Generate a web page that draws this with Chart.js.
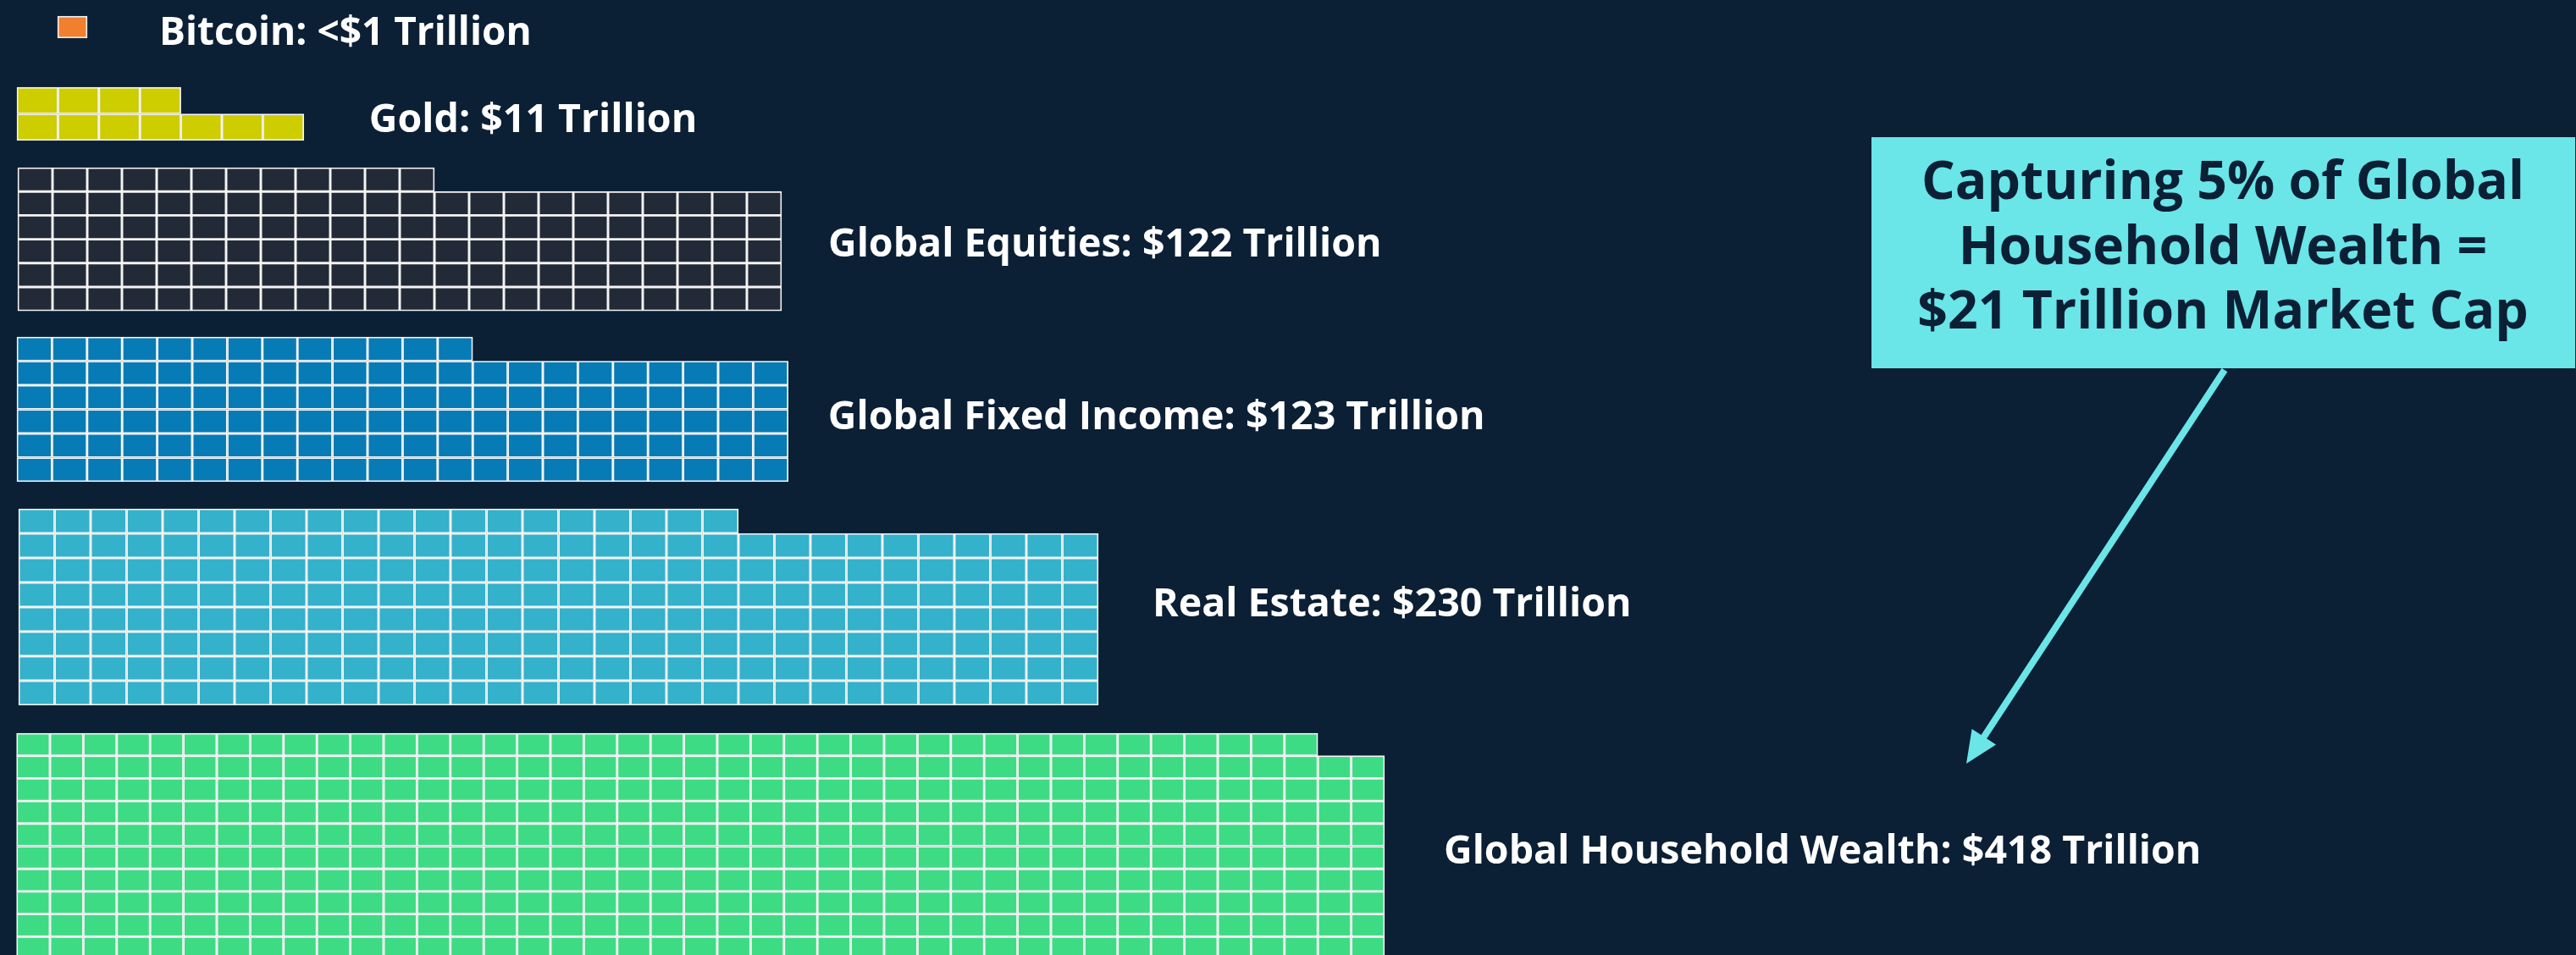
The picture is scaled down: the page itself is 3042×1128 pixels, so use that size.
<!DOCTYPE html>
<html>
<head>
<meta charset="utf-8">
<script src="https://cdn.jsdelivr.net/npm/chart.js@4.4.1/dist/chart.umd.min.js"></script>
<style>
  html, body { margin: 0; padding: 0; background: #0b1f35; }
  canvas { display: block; }
</style>
</head>
<body>
<canvas id="wealthChart" width="3042" height="1128"></canvas>
<script>
// one square = $1 trillion
const assets = ['Bitcoin', 'Gold', 'Global Equities', 'Global Fixed Income', 'Real Estate', 'Global Household Wealth'];
const valueLabels = ['<$1 Trillion', '$11 Trillion', '$122 Trillion', '$123 Trillion', '$230 Trillion', '$418 Trillion'];
const cells = [1, 11, 122, 123, 230, 418];
const gridColumns = [1, 7, 22, 22, 30, 41];
const topRowCells = [1, 4, 12, 13, 20, 39];
const calloutLines = ['Capturing 5% of Global', 'Household Wealth =', '$21 Trillion Market Cap'];

const colors = ['#f0802f', '#cdcd00', '#232a37', '#077bb5', '#34b1cb', '#3ddc84'];

// where each block sits on the canvas (pixels) and how big a square is
const layout = [
    { left: 68,   top: 19,  w: 35,   h: 26,   gap: 85, dy: 21, font: 46 },
    { left: 20,   top: 103, w: 48.4, h: 31.5, gap: 77, dy: 21, font: 46.5 },
    { left: 21,   top: 198, w: 41,   h: 28.2, gap: 55, dy: 20, font: 46.5 },
    { left: 20,   top: 398, w: 41.4, h: 28.5, gap: 47, dy: 23, font: 46.5 },
    { left: 22,   top: 601, w: 42.5, h: 29,   gap: 64, dy: 11, font: 46.5 },
    { left: 19.6, top: 866, w: 39.4, h: 26.7, gap: 70, dy: 23, font: 46.5 }
];

const W = 3042, H = 1128;
const FONT = '"Open Sans", sans-serif';

function waffle(i) {
    const pts = [];
    let placed = 0, row = 0;
    while (placed < cells[i]) {
        const n = row === 0 ? topRowCells[i] : Math.min(gridColumns[i], cells[i] - placed);
        for (let c = 0; c < n; c++) {
            pts.push({ x: c + 0.5, y: [row, row + 1] });
        }
        placed += n;
        row++;
    }
    return pts;
}

// one tick per column so the bars fill exactly one column
function columnTicks(scale) {
    const t = [];
    for (let v = Math.ceil(scale.min); v <= scale.max; v++) t.push({ value: v });
    scale.ticks = t;
}

const datasets = [];
const scales = {};
assets.forEach(function (name, i) {
    const L = layout[i];
    datasets.push({
        label: name,
        data: waffle(i),
        xAxisID: 'x' + i,
        yAxisID: 'y' + i,
        backgroundColor: colors[i],
        borderColor: '#f4f4f4',
        borderWidth: 1.8,
        borderSkipped: false,
        grouped: false,
        barPercentage: 1,
        categoryPercentage: 1
    });
    scales['x' + i] = {
        type: 'linear', axis: 'x', display: false, bounds: 'data', offset: false,
        min: -L.left / L.w, max: (W - L.left) / L.w,
        ticks: { display: false },
        afterBuildTicks: columnTicks
    };
    scales['y' + i] = {
        type: 'linear', axis: 'y', display: false, bounds: 'data', reverse: true,
        min: -L.top / L.h, max: (H - L.top) / L.h,
        ticks: { display: false }
    };
});

const labelPlugin = {
    id: 'blockLabels',
    afterDatasetsDraw(chart) {
        const ctx = chart.ctx;
        const area = chart.chartArea;
        ctx.save();
        ctx.fillStyle = '#ffffff';
        ctx.textAlign = 'left';
        ctx.textBaseline = 'alphabetic';
        assets.forEach(function (name, i) {
            const L = layout[i];
            const xs = chart.scales['x' + i], ys = chart.scales['y' + i];
            const rows = chart.data.datasets[i].data.reduce((m, p) => Math.max(m, p.y[1]), 0);
            const x = xs.getPixelForValue(gridColumns[i]) + L.gap;
            const yTop = ys.getPixelForValue(0);
            const yBot = Math.min(ys.getPixelForValue(rows), area.bottom);
            ctx.font = 'bold ' + L.font + 'px ' + FONT;
            ctx.fillText(name + ': ' + valueLabels[i], x, (yTop + yBot) / 2 + L.dy);
        });
        ctx.restore();
    }
};

const calloutPlugin = {
    id: 'callout',
    afterDraw(chart) {
        const ctx = chart.ctx;
        ctx.save();
        // box
        ctx.fillStyle = '#6ae5e8';
        ctx.fillRect(2210, 162, 831, 273);
        ctx.fillStyle = '#0b1f35';
        ctx.font = 'bold 62.5px ' + FONT;
        ctx.textAlign = 'center';
        ctx.textBaseline = 'alphabetic';
        [235, 312, 388].forEach(function (y, k) {
            ctx.fillText(calloutLines[k], 2625, y);
        });
        // arrow down to the household block
        const x0 = 2627, y0 = 437, x1 = 2322, y1 = 902;
        const ang = Math.atan2(y1 - y0, x1 - x0);
        ctx.strokeStyle = '#6ae5e8';
        ctx.lineWidth = 8;
        ctx.beginPath();
        ctx.moveTo(x0, y0);
        ctx.lineTo(x1 - 25 * Math.cos(ang), y1 - 25 * Math.sin(ang));
        ctx.stroke();
        ctx.fillStyle = '#6ae5e8';
        ctx.beginPath();
        ctx.moveTo(x1, y1);
        ctx.lineTo(x1 - 38 * Math.cos(ang) + 17 * Math.sin(ang), y1 - 38 * Math.sin(ang) - 17 * Math.cos(ang));
        ctx.lineTo(x1 - 38 * Math.cos(ang) - 17 * Math.sin(ang), y1 - 38 * Math.sin(ang) + 17 * Math.cos(ang));
        ctx.closePath();
        ctx.fill();
        ctx.restore();
    }
};

const ctx = document.getElementById('wealthChart').getContext('2d');
const chart = new Chart(ctx, {
    type: 'bar',
    data: { datasets: datasets },
    options: {
        responsive: false,
        animation: false,
        devicePixelRatio: 1,
        layout: { padding: 0, autoPadding: false },
        scales: scales,
        plugins: {
            legend: { display: false },
            tooltip: { enabled: false }
        }
    },
    plugins: [labelPlugin, calloutPlugin]
});
</script>
</body>
</html>
